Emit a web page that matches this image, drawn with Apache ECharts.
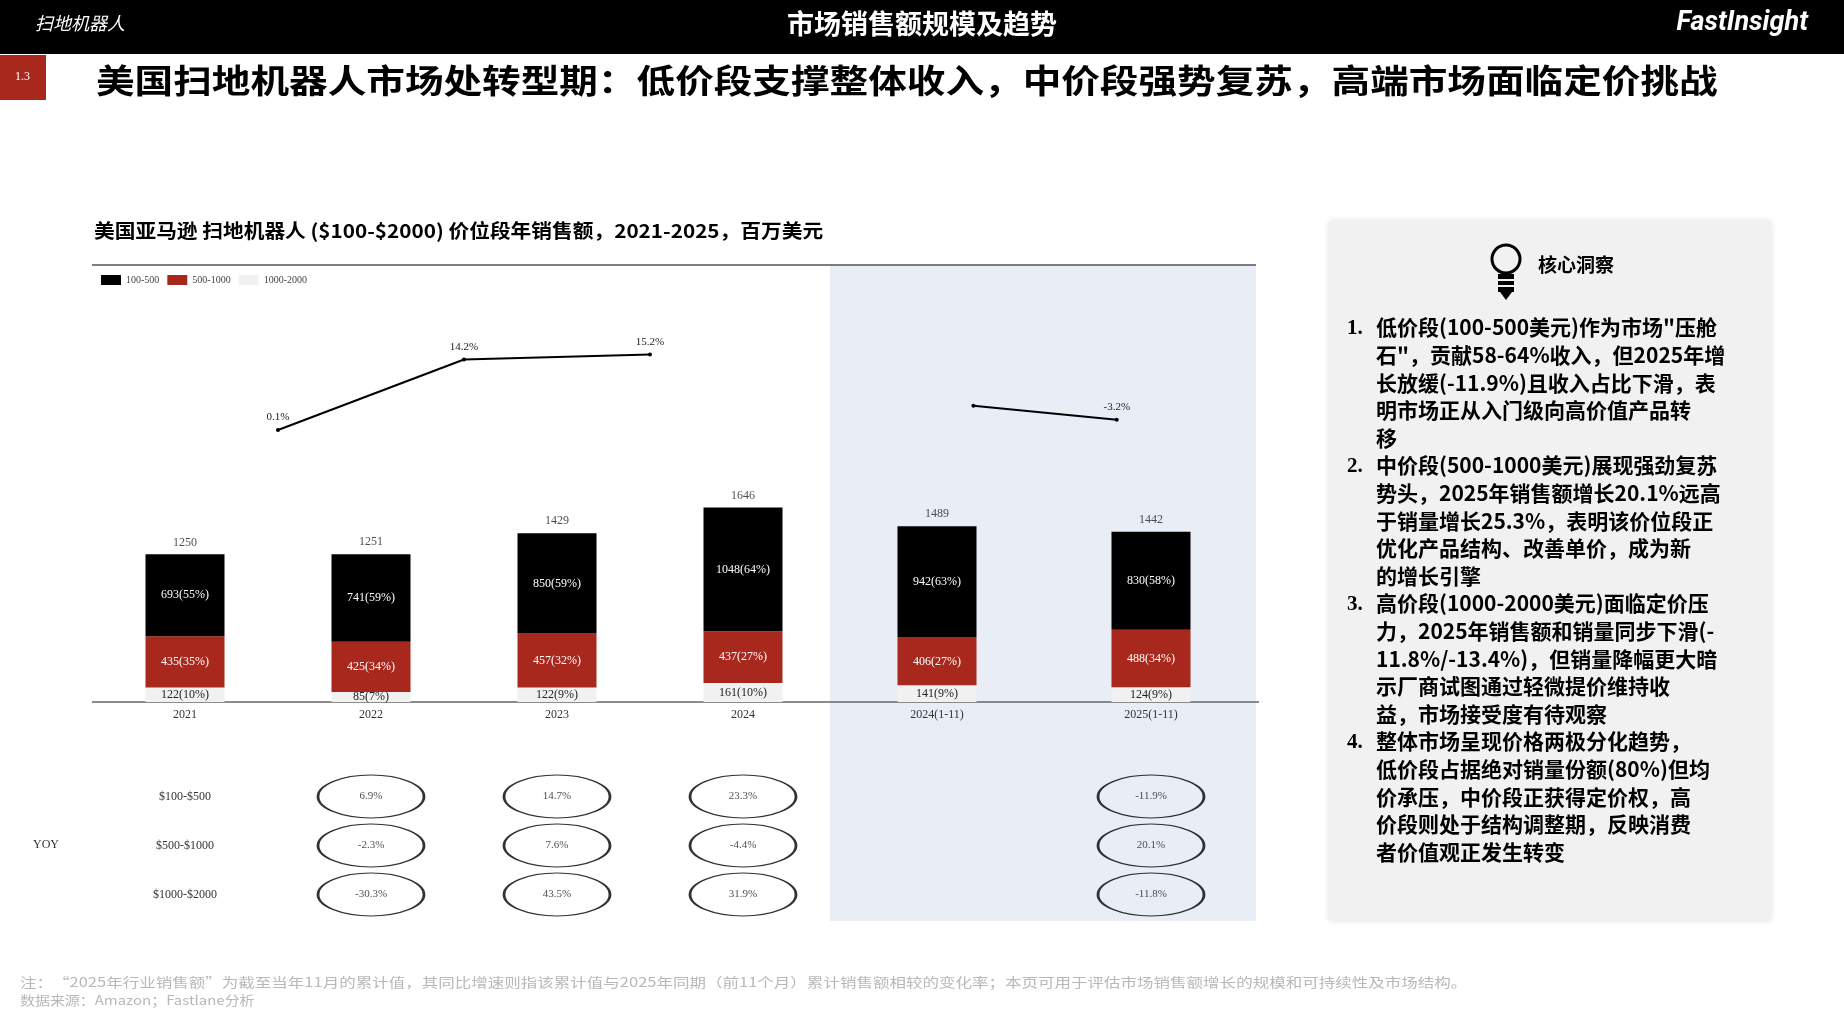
<!DOCTYPE html>
<html>
<head>
<meta charset="utf-8">
<script src="https://cdn.jsdelivr.net/npm/echarts@6/dist/echarts.min.js"></script>
<style>
  html, body { margin: 0; padding: 0; background: #fff; }
  #chart { width: 1844px; height: 1034px; }
</style>
</head>
<body>
<div id="chart"></div>
<script>
// 數據
const yearsA = ['2021', '2022', '2023', '2024']
const yearsB = ['2024(1-11)', '2025(1-11)']
const low = [693, 741, 850, 1048, 942, 830]
const lowPct = [55, 59, 59, 64, 63, 58]
const mid = [435, 425, 457, 437, 406, 488]
const midPct = [35, 34, 32, 27, 27, 34]
const high = [122, 85, 122, 161, 141, 124]
const highPct = [10, 7, 9, 10, 9, 9]
const totals = [1250, 1251, 1429, 1646, 1489, 1442]
const yoyTotalA = [[1, 0.1], [2, 14.2], [3, 15.2]]
const yoyTotalB = [[0.67, 0, ''], [1.34, -3.2, '-3.2%']]
const rowNames = ['$100-$500', '$500-$1000', '$1000-$2000']
const yoyLow = ['6.9%', '14.7%', '23.3%', '-11.9%']
const yoyMid = ['-2.3%', '7.6%', '-4.4%', '20.1%']
const yoyHigh = ['-30.3%', '43.5%', '31.9%', '-11.8%']
const insights = [
  ['低价段(100-500美元)作为市场"压舱', '石"，贡献58-64%收入，但2025年增', '长放缓(-11.9%)且收入占比下滑，表', '明市场正从入门级向高价值产品转', '移'],
  ['中价段(500-1000美元)展现强劲复苏', '势头，2025年销售额增长20.1%远高', '于销量增长25.3%，表明该价位段正', '优化产品结构、改善单价，成为新', '的增长引擎'],
  ['高价段(1000-2000美元)面临定价压', '力，2025年销售额和销量同步下滑(-', '11.8%/-13.4%)，但销量降幅更大暗', '示厂商试图通过轻微提价维持收', '益，市场接受度有待观察'],
  ['整体市场呈现价格两极分化趋势，', '低价段占据绝对销量份额(80%)但均', '价承压，中价段正获得定价权，高', '价段则处于结构调整期，反映消费', '者价值观正发生转变']
]

const CJK = '"Noto Sans CJK SC", sans-serif'
const SERIF = '"Liberation Serif", "Noto Sans CJK SC", serif'
const BLACK = '#000'
const RED = '#a8281d'
const GREY = '#f1f1f1'

const chart = echarts.init(document.getElementById('chart'))

const pick = (arr, from, to) => arr.slice(from, to)

function stackSeries(xi, from, to) {
  const off = from
  const lab = (vals, pcts, color) => ({
    show: true, color, fontFamily: SERIF, fontSize: 12,
    formatter: p => vals[p.dataIndex + off] + '(' + pcts[p.dataIndex + off] + '%)'
  })
  return [
    { name: '1000-2000', type: 'bar', stack: 's' + xi, xAxisIndex: xi, yAxisIndex: xi, barWidth: 79,
      data: pick(high, from, to), itemStyle: { color: GREY }, label: lab(high, highPct, '#222') },
    { name: '500-1000', type: 'bar', stack: 's' + xi, xAxisIndex: xi, yAxisIndex: xi, barWidth: 79,
      data: pick(mid, from, to), itemStyle: { color: RED }, label: lab(mid, midPct, '#fff') },
    { name: '100-500', type: 'bar', stack: 's' + xi, xAxisIndex: xi, yAxisIndex: xi, barWidth: 79,
      data: pick(low, from, to), itemStyle: { color: BLACK }, label: lab(low, lowPct, '#fff') },
    { type: 'scatter', xAxisIndex: xi, yAxisIndex: xi, symbolSize: 0, silent: true,
      data: pick(totals, from, to),
      label: { show: true, position: 'top', distance: 6, color: '#222', fontFamily: SERIF, fontSize: 12,
        formatter: p => totals[p.dataIndex + off] } }
  ]
}

function tableSeries(xi, cols, from) {
  const rows = [yoyLow, yoyMid, yoyHigh]
  return rows.map((r, ri) => ({
    type: 'scatter', xAxisIndex: xi, yAxisIndex: xi, symbol: 'circle', symbolSize: [106, 43],
    itemStyle: { color: 'rgba(0,0,0,0)', borderColor: '#000', borderWidth: 1.8 },
    data: cols.map((c, k) => [c, ri, r[from + k]]),
    label: { show: true, position: 'inside', color: '#222', fontFamily: SERIF, fontSize: 11,
      formatter: p => p.data[2] }
  }))
}

const graphic = [
  { type: 'rect', shape: { x: 0, y: 0, width: 1844, height: 54 }, style: { fill: '#000' } },
  { type: 'text', x: 35, y: 14, style: { text: '扫地机器人', fill: '#fff', font: 'italic 18px ' + CJK } },
  { type: 'text', left: 'center', top: 10, style: { text: '市场销售额规模及趋势', fill: '#fff', font: 'bold 27px ' + CJK } },
  { type: 'text', right: 36, top: 10, style: { text: 'FastInsight', fill: '#fff', font: 'italic bold 27px Roboto, sans-serif' } },
  { type: 'rect', shape: { x: 0, y: 55, width: 46, height: 45 }, style: { fill: RED } },
  { type: 'text', x: 15, y: 71, style: { text: '1.3', fill: '#fff', font: '12px ' + SERIF } },
  { type: 'text', x: 96, y: 64, scaleX: 1.17, style: { text: '美国扫地机器人市场处转型期：低价段支撑整体收入，中价段强势复苏，高端市场面临定价挑战', fill: '#000', font: 'bold 33px ' + CJK } },
  { type: 'text', x: 94, y: 221, scaleX: 1.09, style: { text: '美国亚马逊 扫地机器人 ($100-$2000) 价位段年销售额，2021-2025，百万美元', fill: '#000', font: 'bold 19px ' + CJK } },
  { type: 'rect', z: -10, shape: { x: 830, y: 265, width: 426, height: 656 }, style: { fill: '#e8edf6' } },
  { type: 'line', shape: { x1: 92, y1: 265, x2: 1256, y2: 265 }, style: { stroke: '#555', lineWidth: 1.5 } },
  { type: 'line', shape: { x1: 92, y1: 702, x2: 1259, y2: 702 }, style: { stroke: '#666', lineWidth: 1.5 } },
  { type: 'text', x: 33, y: 839, style: { text: 'YOY', fill: '#333', font: '12px ' + SERIF } },
  ...rowNames.map((n, i) => ({ type: 'text', x: 185, y: 797 + i * 49, style: { text: n, fill: '#333', font: '12px ' + SERIF, align: 'center', verticalAlign: 'middle' } })),
  { type: 'rect', z: -10, shape: { x: 1329, y: 221, width: 442, height: 700, r: 3 },
    style: { fill: '#f1f1f1', shadowBlur: 6, shadowColor: 'rgba(0,0,0,0.12)' } },
  { type: 'circle', shape: { cx: 1506, cy: 259, r: 14 }, style: { fill: 'none', stroke: '#000', lineWidth: 3 } },
  { type: 'rect', shape: { x: 1498, y: 274, width: 16, height: 18 }, style: { fill: '#000' } },
  { type: 'line', shape: { x1: 1497, y1: 280, x2: 1515, y2: 280 }, style: { stroke: '#f1f1f1', lineWidth: 2 } },
  { type: 'line', shape: { x1: 1497, y1: 286, x2: 1515, y2: 286 }, style: { stroke: '#f1f1f1', lineWidth: 2 } },
  { type: 'polygon', shape: { points: [[1500, 292], [1512, 292], [1506, 300]] }, style: { fill: '#000' } },
  { type: 'text', x: 1538, y: 255, style: { text: '核心洞察', fill: '#000', font: 'bold 19px ' + CJK } },
  { type: 'text', x: 20, y: 976, scaleX: 1.27, style: { text: '注：“2025年行业销售额”为截至当年11月的累计值，其同比增速则指该累计值与2025年同期（前11个月）累计销售额相较的变化率；本页可用于评估市场销售额增长的规模和可持续性及市场结构。', fill: '#b8b8b8', font: '13px ' + CJK } },
  { type: 'text', x: 20, y: 994, scaleX: 1.15, style: { text: '数据来源：Amazon；Fastlane分析', fill: '#b8b8b8', font: '13px ' + CJK } }
]

let line = 0
insights.forEach((item, i) => {
  graphic.push({ type: 'text', x: 1347, y: 318 + line * 27.6, style: { text: (i + 1) + '.', fill: '#000', font: 'bold 21px ' + SERIF } })
  item.forEach(t => {
    graphic.push({ type: 'text', x: 1376, y: 317 + line * 27.6, style: { text: t, fill: '#000', font: 'bold 21px ' + CJK } })
    line++
  })
})

const hiddenCat = data => ({ type: 'category', data, axisLine: { show: false }, axisTick: { show: false },
  axisLabel: { color: '#333', fontFamily: SERIF, fontSize: 12, margin: 7 } })
const hidden = extra => Object.assign({ show: false }, extra)

chart.setOption({
  animation: false,
  graphic,
  legend: {
    left: 96, top: 270, itemWidth: 20, itemHeight: 10, itemGap: 8, icon: 'rect',
    textStyle: { fontFamily: SERIF, fontSize: 10, color: '#444' },
    data: ['100-500', '500-1000', '1000-2000']
  },
  grid: [
    { left: 92, width: 744, top: 265, height: 437 },
    { left: 830, width: 428, top: 265, height: 437 },
    { left: 92, width: 744, top: 772, height: 147 },
    { left: 830, width: 428, top: 772, height: 147 },
    { left: 92, width: 744, top: 265, height: 437 },
    { left: 830, width: 428, top: 265, height: 437 }
  ],
  xAxis: [
    Object.assign(hiddenCat(yearsA), { gridIndex: 0 }),
    Object.assign(hiddenCat(yearsB), { gridIndex: 1 }),
    hidden({ type: 'category', data: yearsA, gridIndex: 2 }),
    hidden({ type: 'category', data: yearsB, gridIndex: 3 }),
    hidden({ type: 'value', min: 0, max: 4, gridIndex: 4 }),
    hidden({ type: 'value', min: 0, max: 2, gridIndex: 5 })
  ],
  yAxis: [
    hidden({ type: 'value', min: 0, max: 3700, gridIndex: 0 }),
    hidden({ type: 'value', min: 0, max: 3700, gridIndex: 1 }),
    hidden({ type: 'category', data: rowNames, inverse: true, gridIndex: 2 }),
    hidden({ type: 'category', data: rowNames, inverse: true, gridIndex: 3 }),
    hidden({ type: 'value', min: -54.3, max: 33.1, gridIndex: 4 }),
    hidden({ type: 'value', min: -67.7, max: 32.2, gridIndex: 5 })
  ],
  series: [
    ...stackSeries(0, 0, 4),
    ...stackSeries(1, 4, 6),
    ...tableSeries(2, ['2022', '2023', '2024'], 0),
    ...tableSeries(3, ['2025(1-11)'], 3),
    { type: 'line', xAxisIndex: 4, yAxisIndex: 4, data: yoyTotalA, symbol: 'circle', symbolSize: 4,
      lineStyle: { color: '#000', width: 2 }, itemStyle: { color: '#000' },
      label: { show: true, position: 'top', color: '#222', fontFamily: SERIF, fontSize: 11, formatter: p => p.data[1] + '%' } },
    { type: 'line', xAxisIndex: 5, yAxisIndex: 5, data: yoyTotalB, symbol: 'circle', symbolSize: 4,
      lineStyle: { color: '#000', width: 2 }, itemStyle: { color: '#000' },
      label: { show: true, position: 'top', color: '#222', fontFamily: SERIF, fontSize: 11, formatter: p => p.data[2] } }
  ]
})
</script>
</body>
</html>
